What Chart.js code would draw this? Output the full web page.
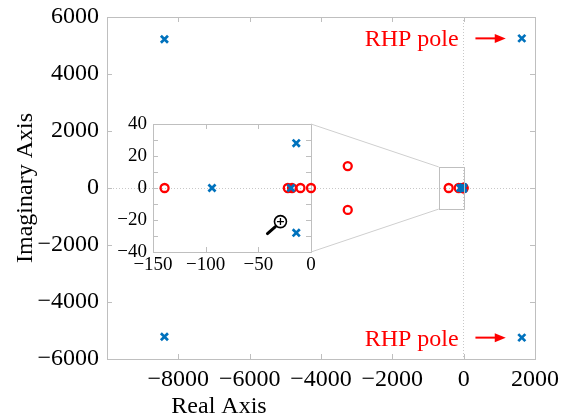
<!DOCTYPE html>
<html>
<head>
<meta charset="utf-8">
<script src="https://cdn.jsdelivr.net/npm/chart.js@4.4.1/dist/chart.umd.min.js"></script>
<style>
  body { margin: 0; background: #fff; }
  #wrap { position: relative; width: 569px; height: 419px; }
  #wrap canvas { position: absolute; left: 0; top: 0; }
</style>
</head>
<body>
<div id="wrap">
  <canvas id="mainChart" width="569" height="419"></canvas>
  <canvas id="insetChart" width="569" height="419"></canvas>
</div>
<script>
// zeros and poles (real / imaginary parts)
const zerosRe = [-3250, -3250, -420, -139, -22, -18, -10, 0];
const zerosIm = [770, -770, 0, 0, 0, 0, 0, 0];
const polesRe = [-8390, -8390, 1630, 1630, -94, -19, -14, -14];
const polesIm = [5220, -5220, 5250, -5250, 0, 0, 28, -28];

// axis ranges and tick steps
const mainRe = [-10000, 2000];
const mainIm = [-6000, 6000];
const mainStep = 2000;
const insetRe = [-150, 0];
const insetIm = [-40, 40];
const insetReStep = 50;
const insetImStep = 10;

// zoom rectangle shown in the main axes
const zoomBoxRe = [-700, 20];
const zoomBoxIm = [-740, 740];

// "RHP pole" notes (text right edge and arrow, in data units)
const noteText = 'RHP pole';
const noteIm = [5250, -5250];
const noteTextRe = -140;
const noteArrowRe = [330, 1180];

const serif = "'Liberation Serif', 'Times New Roman', serif";
const blue = '#0072BD';
const red = '#FF0000';
const boxColor = '#bfbfbf';
const zeroLine = '#c8c8c8';

function fmt(v) { return v < 0 ? '\u2212' + Math.abs(v) : String(v); }
function pts(re, im) { return re.map((r, i) => ({ x: r, y: im[i] })); }
function inside(p) {
  return p.x >= insetRe[0] && p.x <= insetRe[1] && p.y >= insetIm[0] && p.y <= insetIm[1];
}

// box round the axes with ticks pointing inwards
const axesBox = {
  id: 'axesBox',
  beforeDatasetsDraw(chart) {
    const { ctx, chartArea: a, scales } = chart;
    ctx.save();
    ctx.strokeStyle = boxColor;
    ctx.lineWidth = 1;
    ctx.strokeRect(a.left + 0.5, a.top + 0.5, a.right - a.left, a.bottom - a.top);
    const len = 5;
    ctx.beginPath();
    scales.x.ticks.forEach(t => {
      const px = Math.round(scales.x.getPixelForValue(t.value)) + 0.5;
      ctx.moveTo(px, a.bottom); ctx.lineTo(px, a.bottom - len);
      ctx.moveTo(px, a.top); ctx.lineTo(px, a.top + len);
    });
    scales.y.ticks.forEach(t => {
      const py = Math.round(scales.y.getPixelForValue(t.value)) + 0.5;
      ctx.moveTo(a.left, py); ctx.lineTo(a.left + len, py);
      ctx.moveTo(a.right, py); ctx.lineTo(a.right - len, py);
    });
    ctx.stroke();
    ctx.restore();
  }
};

const mainExtras = {
  id: 'mainExtras',
  afterDatasetsDraw(chart) {
    const { ctx, chartArea: a, scales: { x, y } } = chart;
    ctx.save();
    // zoom rectangle
    ctx.strokeStyle = boxColor;
    ctx.lineWidth = 1;
    const bx0 = Math.round(x.getPixelForValue(zoomBoxRe[0])) + 0.5;
    const bx1 = Math.round(x.getPixelForValue(zoomBoxRe[1])) + 0.5;
    const by0 = Math.round(y.getPixelForValue(zoomBoxIm[1])) + 0.5;
    const by1 = Math.round(y.getPixelForValue(zoomBoxIm[0])) + 0.5;
    ctx.strokeRect(bx0, by0, bx1 - bx0, by1 - by0);

    // RHP pole notes
    ctx.fillStyle = red;
    ctx.strokeStyle = red;
    ctx.font = '24px ' + serif;
    ctx.textAlign = 'right';
    ctx.textBaseline = 'alphabetic';
    noteIm.forEach(im => {
      const py = y.getPixelForValue(im);
      ctx.fillText(noteText, x.getPixelForValue(noteTextRe), py + 8);
      const x0 = x.getPixelForValue(noteArrowRe[0]);
      const tip = x.getPixelForValue(noteArrowRe[1]);
      ctx.lineWidth = 2;
      ctx.beginPath();
      ctx.moveTo(x0, py); ctx.lineTo(tip - 8, py);
      ctx.stroke();
      ctx.beginPath();
      ctx.moveTo(tip, py); ctx.lineTo(tip - 11, py - 4.5); ctx.lineTo(tip - 11, py + 4.5);
      ctx.closePath();
      ctx.fill();
    });

    // x axis title
    ctx.fillStyle = '#000';
    ctx.textAlign = 'center';
    ctx.font = '24px ' + serif;
    ctx.fillText('Real Axis', a.left + 112, 413);
    ctx.restore();
  }
};

const mainChart = new Chart(document.getElementById('mainChart'), {
  type: 'scatter',
  data: {
    datasets: [
      { label: 'Poles', data: pts(polesRe, polesIm), pointStyle: 'crossRot', pointRadius: 5,
        borderColor: blue, borderWidth: 2.7, backgroundColor: blue },
      { label: 'Zeros', data: pts(zerosRe, zerosIm), pointStyle: 'circle', pointRadius: 4,
        borderColor: red, borderWidth: 2.3, backgroundColor: 'rgba(0,0,0,0)' }
    ]
  },
  options: {
    responsive: false,
    animation: false,
    layout: { padding: { top: 17, right: 34, left: 0, bottom: 0 } },
    plugins: { legend: { display: false }, tooltip: { enabled: false } },
    scales: {
      x: {
        type: 'linear', min: mainRe[0], max: mainRe[1],
        afterFit: s => { s.height = 60; s.paddingLeft = 0; s.paddingRight = 0; },
        ticks: { stepSize: mainStep, padding: 6, color: '#000', maxRotation: 0, autoSkip: false,
          font: { family: serif, size: 24 },
          callback: v => v === mainRe[0] ? '' : fmt(v) },
        grid: { color: c => c.tick && c.tick.value === 0 ? zeroLine : 'rgba(0,0,0,0)', drawTicks: false },
        border: { display: false, dash: [1, 2] }
      },
      y: {
        type: 'linear', min: mainIm[0], max: mainIm[1],
        afterFit: s => { s.width = 107; s.paddingTop = 0; s.paddingBottom = 0; },
        ticks: { stepSize: mainStep, padding: 8, color: '#000', autoSkip: false,
          font: { family: serif, size: 24 }, callback: v => fmt(v) },
        grid: { color: c => c.tick && c.tick.value === 0 ? zeroLine : 'rgba(0,0,0,0)', drawTicks: false },
        border: { display: false, dash: [1, 2] },
        title: { display: true, text: 'Imaginary Axis', color: '#000',
          font: { family: serif, size: 24 }, padding: { top: 11, bottom: 0 } }
      }
    }
  },
  plugins: [axesBox, mainExtras]
});

// inset: white plot area, connector lines to the zoom box, zoom cursor
const cursorAt = { x: -29, y: -21 };
const insetExtras = {
  id: 'insetExtras',
  beforeDraw(chart) {
    const { ctx, chartArea: a } = chart;
    ctx.save();
    ctx.fillStyle = '#fff';
    ctx.fillRect(a.left, a.top, a.right - a.left, a.bottom - a.top);
    ctx.restore();
  },
  afterDatasetsDraw(chart) {
    const { ctx, chartArea: a, scales: { x, y } } = chart;
    const mx = mainChart.scales.x, my = mainChart.scales.y;
    ctx.save();
    ctx.strokeStyle = '#cfcfcf';
    ctx.lineWidth = 1;
    ctx.beginPath();
    ctx.moveTo(a.right, a.top);
    ctx.lineTo(mx.getPixelForValue(zoomBoxRe[0]), my.getPixelForValue(zoomBoxIm[1]));
    ctx.moveTo(a.right, a.bottom);
    ctx.lineTo(mx.getPixelForValue(zoomBoxRe[0]), my.getPixelForValue(zoomBoxIm[0]));
    ctx.stroke();

    // magnifier cursor
    const cx = x.getPixelForValue(cursorAt.x), cy = y.getPixelForValue(cursorAt.y);
    ctx.strokeStyle = '#000';
    ctx.fillStyle = '#fff';
    ctx.lineWidth = 1.6;
    ctx.beginPath(); ctx.arc(cx, cy, 6, 0, Math.PI * 2); ctx.fill(); ctx.stroke();
    ctx.lineWidth = 1.3;
    ctx.beginPath();
    ctx.moveTo(cx - 3.5, cy); ctx.lineTo(cx + 3.5, cy);
    ctx.moveTo(cx, cy - 3.5); ctx.lineTo(cx, cy + 3.5);
    ctx.stroke();
    ctx.lineWidth = 3;
    ctx.lineCap = 'round';
    ctx.beginPath();
    ctx.moveTo(cx - 5, cy + 5); ctx.lineTo(cx - 13, cy + 12);
    ctx.stroke();
    ctx.restore();
  }
};

const insetChart = new Chart(document.getElementById('insetChart'), {
  type: 'scatter',
  data: {
    datasets: [
      { label: 'Poles', data: pts(polesRe, polesIm).filter(inside), pointStyle: 'crossRot', pointRadius: 5,
        borderColor: blue, borderWidth: 2.7, backgroundColor: blue, clip: false },
      { label: 'Zeros', data: pts(zerosRe, zerosIm).filter(inside), pointStyle: 'circle', pointRadius: 4,
        borderColor: red, borderWidth: 2.3, backgroundColor: 'rgba(0,0,0,0)', clip: false }
    ]
  },
  options: {
    responsive: false,
    animation: false,
    layout: { padding: { top: 124, right: 258, left: 100, bottom: 139 } },
    plugins: { legend: { display: false }, tooltip: { enabled: false } },
    scales: {
      x: {
        type: 'linear', min: insetRe[0], max: insetRe[1],
        afterFit: s => { s.height = 28; },
        ticks: { stepSize: insetReStep, padding: 2, color: '#000', maxRotation: 0, autoSkip: false,
          font: { family: serif, size: 19 }, callback: v => fmt(v) },
        grid: { color: 'rgba(0,0,0,0)', drawTicks: false },
        border: { display: false }
      },
      y: {
        type: 'linear', min: insetIm[0], max: insetIm[1],
        afterFit: s => { s.width = 53; },
        ticks: { stepSize: insetImStep, padding: 6, color: '#000', autoSkip: false,
          font: { family: serif, size: 19 }, callback: v => v % 20 === 0 ? fmt(v) : '' },
        grid: { color: c => c.tick && c.tick.value === 0 ? zeroLine : 'rgba(0,0,0,0)', drawTicks: false },
        border: { display: false, dash: [1, 2] }
      }
    }
  },
  plugins: [insetExtras, axesBox]
});
</script>
</body>
</html>
